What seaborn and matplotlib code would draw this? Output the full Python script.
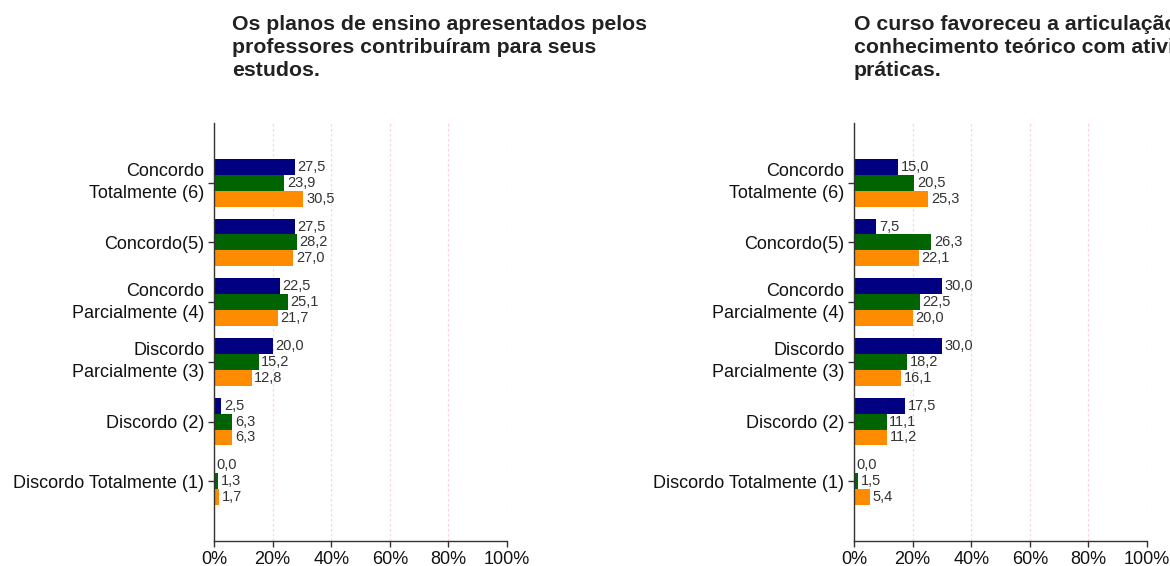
"""Dois gráficos de barras horizontais — avaliação do curso (escala 1 a 6)"""

import numpy as np
import pandas as pd
import matplotlib.pyplot as plt
import seaborn as sns

# categorias da escala (de cima para baixo)
categorias = [
    'Concordo\nTotalmente (6)',
    'Concordo(5)',
    'Concordo\nParcialmente (4)',
    'Discordo\nParcialmente (3)',
    'Discordo (2)',
    'Discordo Totalmente (1)',
]
series = ['Série 1', 'Série 2', 'Série 3']
cores = ['#000080', '#006400', '#FF8C00']

titulo_esq = 'Os planos de ensino apresentados pelos\nprofessores contribuíram para seus\nestudos.'
titulo_dir = 'O curso favoreceu a articulação do\nconhecimento teórico com atividades\npráticas.'

# valores em %
planos_s1 = [27.5, 27.5, 22.5, 20.0, 2.5, 0.0]
planos_s2 = [23.9, 28.2, 25.1, 15.2, 6.3, 1.3]
planos_s3 = [30.5, 27.0, 21.7, 12.8, 6.3, 1.7]

curso_s1 = [15.0, 7.5, 30.0, 30.0, 17.5, 0.0]
curso_s2 = [20.5, 26.3, 22.5, 18.2, 11.1, 1.5]
curso_s3 = [25.3, 22.1, 20.0, 16.1, 11.2, 5.4]

x_ticks = [0, 20, 40, 60, 80, 100]

sns.set_theme(style='white')
plt.rcParams['font.family'] = ['Liberation Sans', 'DejaVu Sans']


def monta_df(s1, s2, s3):
    linhas = []
    for nome, vals in zip(series, [s1, s2, s3]):
        for cat, v in zip(categorias, vals):
            linhas.append({'categoria': cat, 'serie': nome, 'valor': v})
    return pd.DataFrame(linhas)


def desenha(ax, df):
    sns.barplot(data=df, y='categoria', x='valor', hue='serie',
                order=categorias, hue_order=series, palette=cores,
                saturation=1, orient='h', width=0.8, legend=False, ax=ax,
                edgecolor='none', linewidth=0)
    for cont in ax.containers:
        rotulos = [f'{b.get_width():.1f}'.replace('.', ',') for b in cont]
        ax.bar_label(cont, labels=rotulos, padding=2, fontsize=10.5, color='#333333')

    ax.set_xlim(0, 100)
    ax.set_ylim(len(categorias), -1)
    ax.set_xticks(x_ticks)
    ax.set_xticklabels([f'{t}%' for t in x_ticks])
    ax.set_xlabel('')
    ax.set_ylabel('')
    ax.xaxis.grid(True, color='#ffd0dc', linestyle=(0, (2, 2)), linewidth=0.9)
    ax.set_axisbelow(True)
    for lado in ['top', 'right']:
        ax.spines[lado].set_visible(False)
    for lado in ['left', 'bottom']:
        ax.spines[lado].set_color('#333333')
        ax.spines[lado].set_linewidth(1)
    ax.tick_params(axis='both', which='both', length=4, width=1, color='#333333',
                   labelsize=13, labelcolor='#111111', pad=3)
    ax.tick_params(axis='y', left=True)
    ax.tick_params(axis='x', bottom=True, pad=3)
    for t in ax.get_yticklabels():
        t.set_multialignment('right')
        t.set_linespacing(1.4)
        if '\n' in t.get_text():
            t.set_verticalalignment('center')


fig = plt.figure(figsize=(11.7, 5.66), dpi=100)
W, H = 1170, 566
ax1 = fig.add_axes([214 / W, 25 / H, 293 / W, 418 / H])
ax2 = fig.add_axes([854 / W, 25 / H, 293 / W, 418 / H])

desenha(ax1, monta_df(planos_s1, planos_s2, planos_s3))
desenha(ax2, monta_df(curso_s1, curso_s2, curso_s3))

fig.text(232 / W, 1 - 15 / H, titulo_esq, ha='left', va='top', fontsize=15.3,
         fontweight='bold', color='#222222', linespacing=1.25)
fig.text(854 / W, 1 - 15 / H, titulo_dir, ha='left', va='top', fontsize=15.3,
         fontweight='bold', color='#222222', linespacing=1.25)

fig.savefig('out.png', dpi=100, facecolor='white')
